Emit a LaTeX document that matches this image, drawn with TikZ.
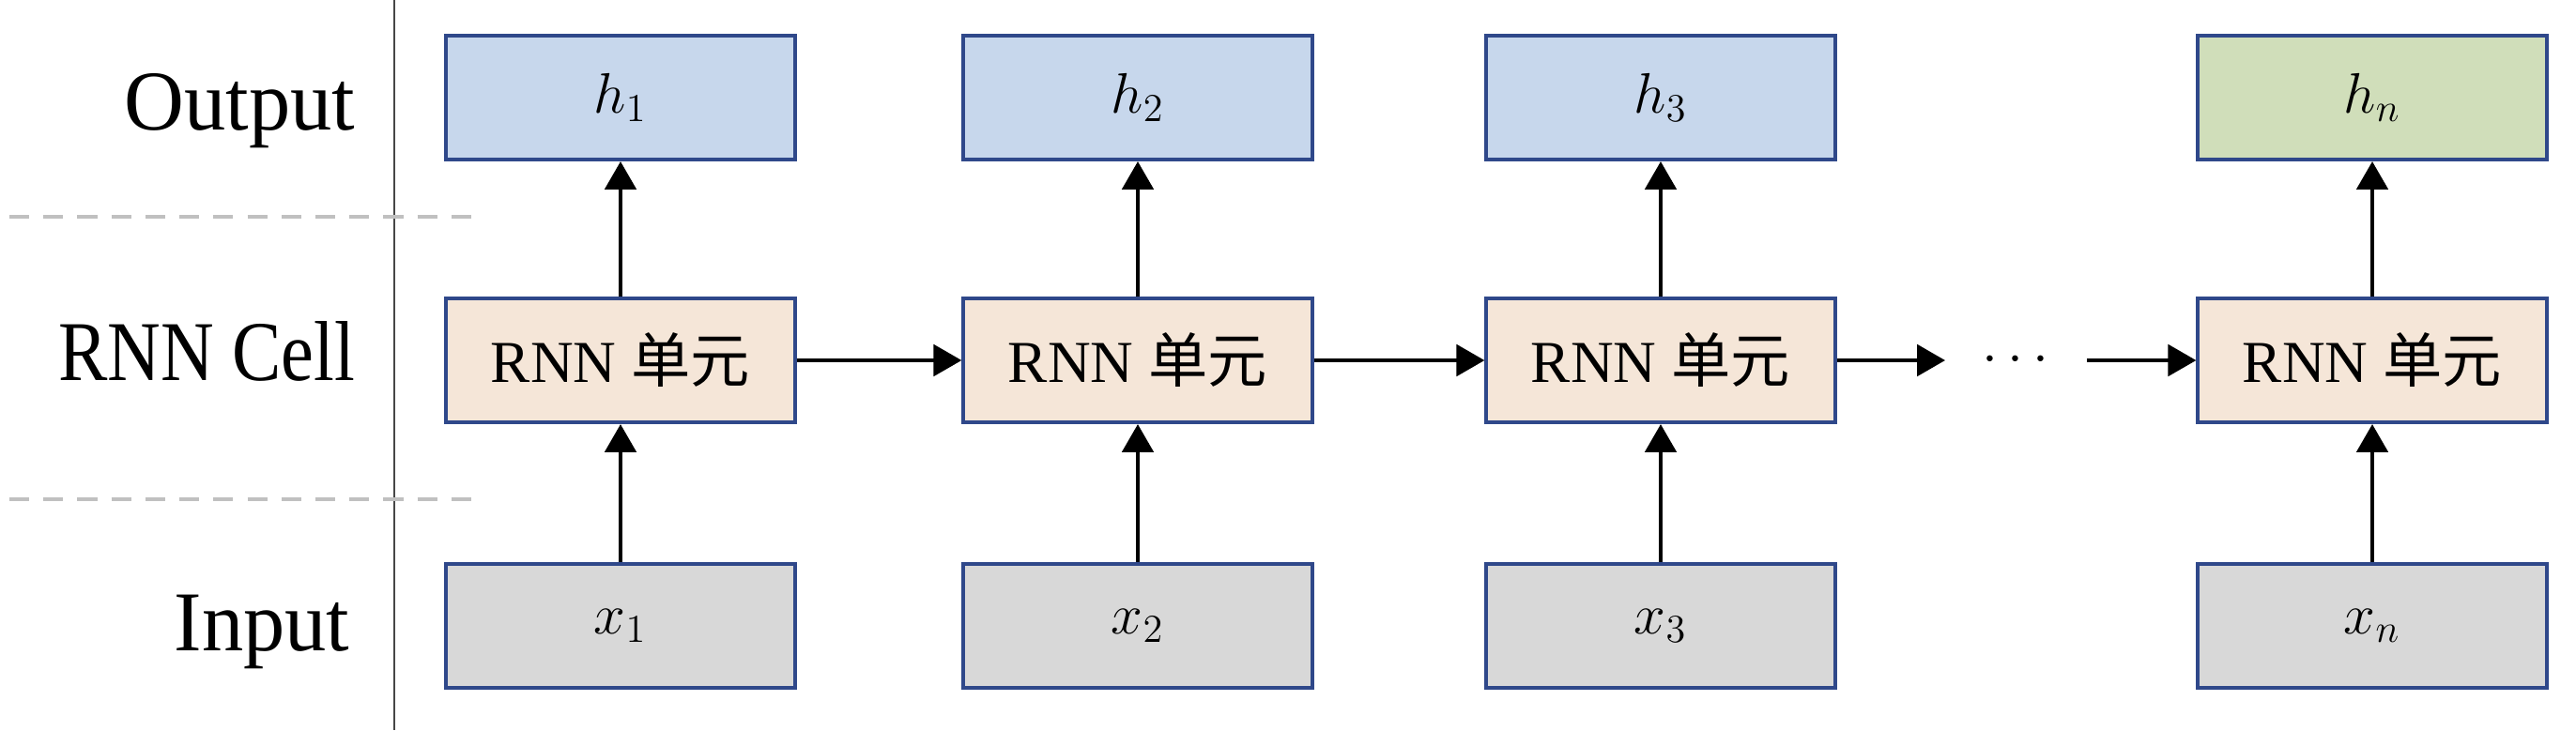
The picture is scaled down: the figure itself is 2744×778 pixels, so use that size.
\documentclass[tikz,border=0pt]{standalone}
\usepackage{graphicx}
\usepackage{fontspec}
\setmainfont{Liberation Serif}
\newfontfamily\cjk{Noto Sans CJK SC}
\usetikzlibrary{arrows.meta}
\definecolor{boxblue}{RGB}{47,72,138}
\definecolor{outblue}{RGB}{199,215,236}
\definecolor{rnnfill}{RGB}{245,230,216}
\definecolor{ingray}{RGB}{216,216,216}
\definecolor{outgreen}{RGB}{208,222,186}
\definecolor{dashgray}{RGB}{192,192,192}
\definecolor{sepgray}{RGB}{70,70,70}
\begin{document}
\begin{tikzpicture}[x=0.01cm,y=-0.01cm,
  cellbox/.style={draw=boxblue, line width=1.15pt, minimum width=3.71cm, minimum height=1.32cm, inner sep=0pt, font=\fontsize{18}{20}\selectfont},
  outbox/.style={cellbox, fill=outblue},
  lastbox/.style={cellbox, fill=outgreen},
  rnnbox/.style={cellbox, fill=rnnfill},
  inbox/.style={cellbox, fill=ingray},
  rowlabel/.style={anchor=base east, inner sep=0pt, font=\fontsize{25.8}{30}\selectfont},
  arr/.style={-{Triangle[length=8.5pt,width=9.5pt]}, line width=1.1pt, black},
  sepline/.style={line width=0.6pt, sepgray},
  dashline/.style={line width=1.4pt, dashgray, dash pattern=on 6pt off 4.3pt}
]
\useasboundingbox (0,0) rectangle (2744,778);
% separators
\draw[sepline] (420,0) -- (420,778);
\draw[dashline] (10,231) -- (508,231);
\draw[dashline] (10,532) -- (508,532);
% row labels
\node[rowlabel] (lo) at (379,138) {\scalebox{0.975}[1]{Output}};
\node[rowlabel] (lr) at (379,405) {\scalebox{0.865}[1]{RNN Cell}};
\node[rowlabel] (li) at (373,693) {\scalebox{0.975}[1]{Input}};
% boxes
\node[outbox] (h1) at (661,104) {$h_1$};
\node[outbox] (h2) at (1212,104) {$h_2$};
\node[outbox] (h3) at (1769,104) {$h_3$};
\node[lastbox] (hn) at (2527,104) {$h_n$};
\node[rnnbox] (c1) at (661,384) {RNN {\cjk 单元}};
\node[rnnbox] (c2) at (1212,384) {RNN {\cjk 单元}};
\node[rnnbox] (c3) at (1769,384) {RNN {\cjk 单元}};
\node[rnnbox] (cn) at (2527,384) {RNN {\cjk 单元}};
\node[inbox] (x1) at (661,667) {$x_1$};
\node[inbox] (x2) at (1212,667) {$x_2$};
\node[inbox] (x3) at (1769,667) {$x_3$};
\node[inbox] (xn) at (2527,667) {$x_n$};
% vertical arrows
\foreach \a/\b/\c in {x1/c1/h1, x2/c2/h2, x3/c3/h3, xn/cn/hn}{
  \draw[arr] (\a.north) -- (\b.south);
  \draw[arr] (\b.north) -- (\c.south);
}
% horizontal arrows
\draw[arr] (c1.east) -- (c2.west);
\draw[arr] (c2.east) -- (c3.west);
\coordinate (dl) at (2072,384);
\coordinate (dr) at (2223,384);
\node[inner sep=0pt, font=\fontsize{18}{20}\selectfont] (dots) at (2147,384) {$\mathbf{\cdots}$};
\draw[arr] (c3.east) -- (dl);
\draw[arr] (dr) -- (cn.west);
\end{tikzpicture}
\end{document}
